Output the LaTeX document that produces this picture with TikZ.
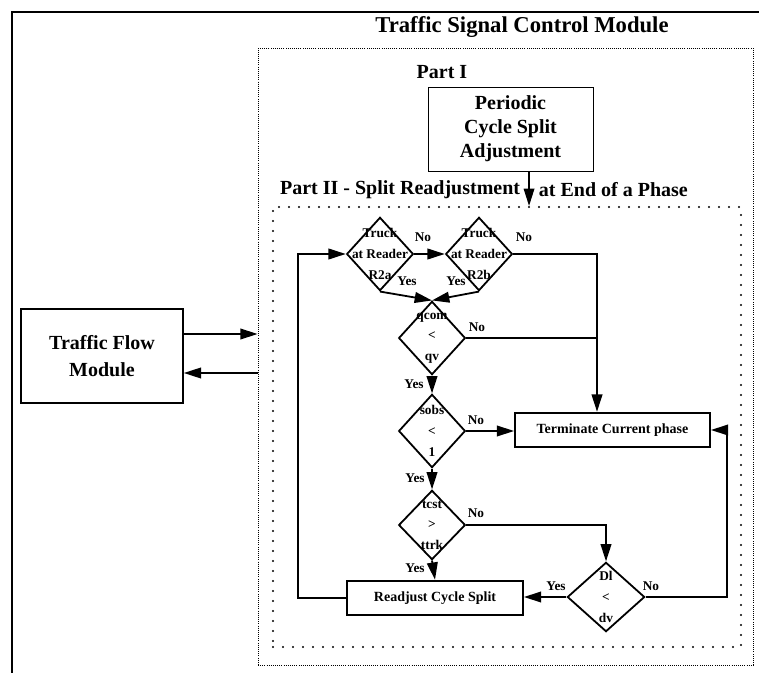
\documentclass[tikz,border=0pt]{standalone}
\usepackage{fontspec}
\setmainfont{Liberation Serif}
\usetikzlibrary{arrows.meta,shapes.geometric}

\tikzset{
  arr/.style={-{Triangle[length=13pt,width=8pt]}},
  decision/.style={draw,diamond,inner sep=0pt,minimum width=50pt,minimum height=55pt},
  dtext/.style={align=center,inner sep=0pt,font=\fontsize{10}{15.5}\selectfont\bfseries},
  answer/.style={font=\fontsize{10}{11}\selectfont\bfseries,inner sep=0pt},
  action/.style={draw,minimum height=26pt,font=\fontsize{10.5}{12}\selectfont\bfseries},
  head/.style={font=\fontsize{15}{18}\selectfont\bfseries,inner sep=0pt}
}

\begin{document}
\begin{tikzpicture}[x=0.75pt,y=-0.75pt,line width=1.35pt]
\useasboundingbox (0,0) rectangle (759,673);

% outer frame
\draw[line width=1.5pt] (12,673) -- (12,12) -- (759,12);

% module containers
\node[draw,densely dotted,line width=0.6pt,minimum width=371.25pt,minimum height=462.75pt] (tscm) at (505.5,356.5) {};
\node[font=\fontsize{17}{20}\selectfont\bfseries] (title) at (522,27) {Traffic Signal Control Module};
\node[draw,line width=1.2pt,align=center,minimum width=121.5pt,minimum height=70.5pt,font=\fontsize{15}{20}\selectfont\bfseries] (tfm) at (102,356) {Traffic Flow\\Module};

% part I
\node[head] (part1) at (442,72) {Part I};
\node[draw,line width=0.7pt,align=center,minimum width=123.75pt,minimum height=63pt,font=\fontsize{15}{18}\selectfont\bfseries] (pcsa) at (510.5,129) {Periodic\\Cycle Split\\Adjustment};

% part II
\node[draw,line width=1.6pt,line cap=round,dash pattern=on 0pt off 7.5pt,minimum width=351pt,minimum height=330pt] (p2box) at (507,427) {};
\node[head,anchor=east] (part2a) at (521,190) {Part II - Split Readjustment};
\node[head,anchor=west] (part2b) at (538,190) {at End of a Phase};
\draw[arr,line width=1pt] ([xshift=13.9pt]pcsa.south) -- ([xshift=13.9pt]pcsa.south |- p2box.north);

% decisions
\node[decision,label={[dtext]center:Truck\\at Reader\\R2a}] (r2a) at (380,254) {};
\node[decision,label={[dtext]center:Truck\\at Reader\\R2b}] (r2b) at (479,254) {};
\node[decision,label={[dtext]center:qcom\\<\\qv}] (qcom) at (432,338) {};
\node[decision,label={[dtext]center:sobs\\<\\1}] (sobs) at (432,431) {};
\node[decision,minimum height=52pt,label={[dtext]center:tcst\\>\\ttrk}] (tcst) at (432,525) {};
\node[decision,minimum width=58pt,minimum height=52pt,label={[dtext]center:Dl\\<\\dv}] (d1) at (606,597) {};

% actions
\node[action,minimum width=146.25pt] (term) at (612.5,430) {Terminate Current phase};
\node[action,minimum width=132pt] (readj) at (435,598) {Readjust Cycle Split};

% junctions
\coordinate (jl) at (298,598);
\coordinate (jn) at (597,338);
\coordinate (jr) at (727,500);

% connectors
\draw[arr] ([yshift=16.5pt]tfm.east) -- ([yshift=16.5pt]tfm.east -| tscm.west);
\draw[arr] ([yshift=-12.75pt]tfm.east -| tscm.west) -- ([yshift=-12.75pt]tfm.east);
\draw[arr] (readj.west) -- (jl) |- (r2a.west);
\draw[arr] (r2a.east) -- (r2b.west);
\draw[arr] (r2b.east) -| (jn) -- (jn |- term.north);
\draw (qcom.east) -- (jn);
\draw[arr] (r2a.south) -- (qcom.north);
\draw[arr] (r2b.south) -- (qcom.north);
\draw[arr] (qcom.south) -- (sobs.north);
\draw[arr] (sobs.east) -- (sobs.east -| term.west);
\draw[arr] (sobs.south) -- (tcst.north);
\draw[arr] (tcst.south) -- (readj.north);
\draw[arr] (tcst.east) -| (d1.north);
\draw[arr] (d1.west) -- (d1.west -| readj.east);
\draw[arr] (d1.east) -| (jr) |- (term.east);

% yes / no
\node[answer] (r2ano) at (423,237) {No};
\node[answer] (r2bno) at (524,237) {No};
\node[answer] (r2ayes) at (407,281) {Yes};
\node[answer] (r2byes) at (456,281) {Yes};
\node[answer] (qcomno) at (477,327) {No};
\node[answer] (qcomyes) at (414,384) {Yes};
\node[answer] (sobsno) at (476,420) {No};
\node[answer] (sobsyes) at (415,478) {Yes};
\node[answer] (tcstno) at (476,513) {No};
\node[answer] (tcstyes) at (415,568) {Yes};
\node[answer] (d1yes) at (556,586) {Yes};
\node[answer] (d1no) at (651,586) {No};
\end{tikzpicture}
\end{document}
